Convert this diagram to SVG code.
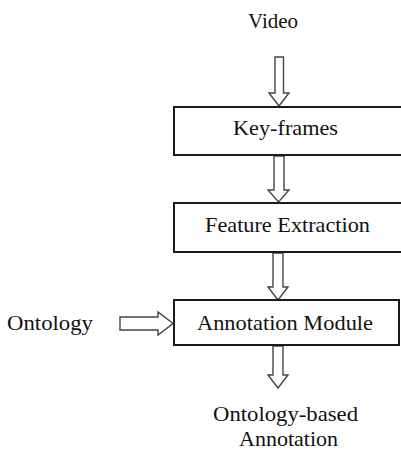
<svg xmlns="http://www.w3.org/2000/svg" width="401" height="452" viewBox="0 0 401 452">
<style>
.box{fill:#fff;stroke:#1a1a1a;stroke-width:2}
.arr{fill:#fff;stroke:#444;stroke-width:1.4;stroke-linejoin:miter}
text{font-family:"Liberation Serif","Times New Roman",serif;font-size:22px;fill:#111}
</style>
<rect width="401" height="452" fill="#fff"/>
<g id="connectors">
<path class="arr" d="M275,57 H283.5 V93 H289 L279,106 L269,93 H275 Z"/>
<path class="arr" d="M274,156 H284 V190 H289 L278.5,202 L268,190 H274 Z"/>
<path class="arr" d="M273,253 H283 V287 H288 L278,300 L268,287 H273 Z"/>
<path class="arr" d="M273,346 H283 V375 H288 L278,388 L268,375 H273 Z"/>
<path class="arr" d="M120,317 H158 V312 L173,323.5 L158,335 V330 H120 Z"/>
</g>
<g id="video"><text x="273" y="28" text-anchor="middle" textLength="50" lengthAdjust="spacingAndGlyphs">Video</text></g>
<g id="keyframes">
<rect class="box" x="174" y="107" width="240" height="48"/>
<text x="233" y="135" textLength="105" lengthAdjust="spacingAndGlyphs">Key-frames</text>
</g>
<g id="feature">
<rect class="box" x="174" y="203" width="240" height="49"/>
<text x="205" y="232" textLength="165" lengthAdjust="spacingAndGlyphs">Feature Extraction</text>
</g>
<g id="annotation">
<rect class="box" x="174" y="300" width="225" height="45"/>
<text x="197" y="330" textLength="176" lengthAdjust="spacingAndGlyphs">Annotation Module</text>
</g>
<g id="ontology"><text x="7" y="330" textLength="86" lengthAdjust="spacingAndGlyphs">Ontology</text></g>
<g id="output">
<text x="213" y="421" textLength="145" lengthAdjust="spacingAndGlyphs">Ontology-based</text>
<text x="239" y="446" textLength="99" lengthAdjust="spacingAndGlyphs">Annotation</text>
</g>
</svg>
